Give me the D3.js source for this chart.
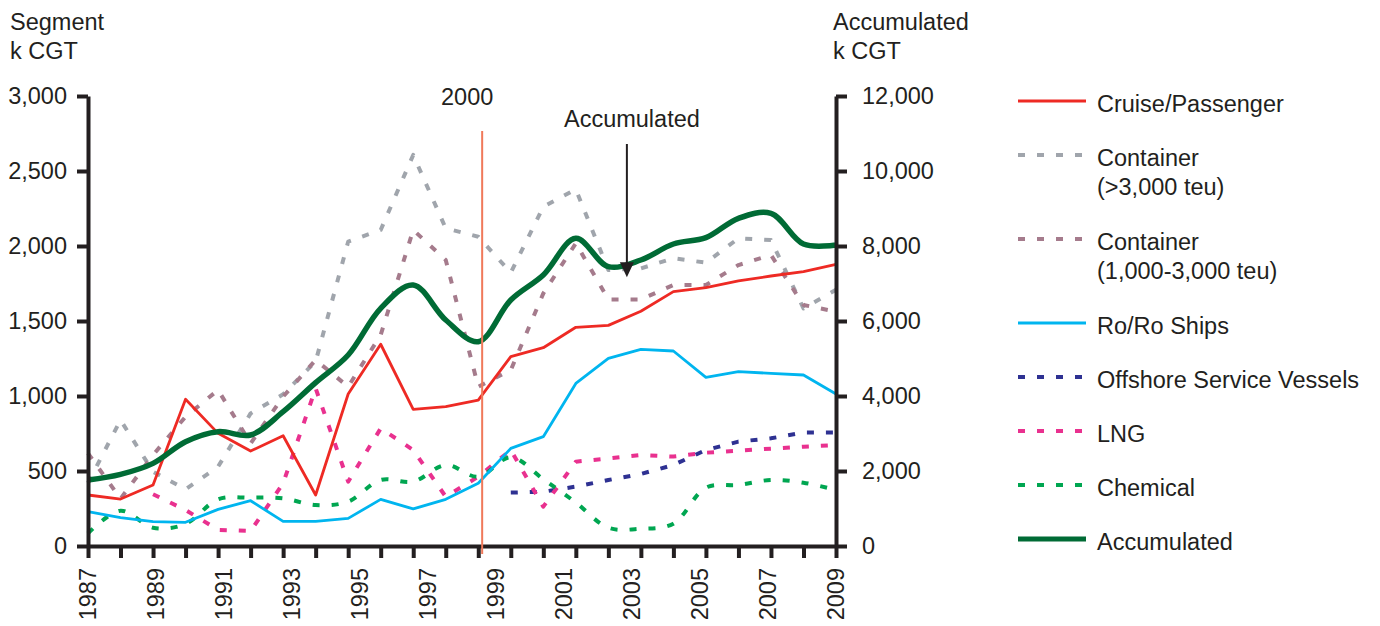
<!DOCTYPE html>
<html>
<head>
<meta charset="utf-8">
<script src="https://cdn.jsdelivr.net/npm/d3@7"></script>
<style>
body { margin: 0; background: #fff; }
text { font-family: "Liberation Sans", Arial, Helvetica, sans-serif; fill: #231f20; font-size: 23.5px; }
</style>
</head>
<body>
<svg id="chart" width="1380" height="626"></svg>
<script>
// year labels under the x axis (odd years)
var labelYears = [1987, 1989, 1991, 1993, 1995, 1997, 1999, 2001, 2003, 2005, 2007, 2009];

// 24 data points per series, k CGT
var cruise    = [340, 313, 407, 978, 751, 633, 735, 340, 1013, 1345, 911, 929, 973, 1262, 1322, 1458, 1471, 1565, 1696, 1722, 1767, 1800, 1829, 1877];
var contLarge = [420, 840, 495, 378, 529, 884, 1011, 1230, 2029, 2107, 2607, 2118, 2062, 1822, 2262, 2378, 1840, 1851, 1918, 1889, 2051, 2040, 1584, 1709];
var contMid   = [618, 315, 607, 862, 1040, 684, 996, 1240, 1062, 1407, 2107, 1907, 1062, 1173, 1684, 2018, 1644, 1644, 1740, 1740, 1873, 1940, 1607, 1562];
var roro      = [229, 189, 162, 158, 244, 302, 164, 164, 184, 311, 247, 311, 418, 651, 729, 1084, 1251, 1311, 1300, 1124, 1162, 1151, 1140, 1013];
var offshore  = [null, null, null, null, null, null, null, null, null, null, null, null, null, 356, 362, 396, 440, 480, 540, 640, 696, 718, 756, 756];
var lng       = [null, null, 345, 240, 107, 100, 418, 1051, 429, 784, 640, 329, 462, 640, 262, 562, 584, 607, 596, 622, 636, 649, 662, 673];
var chemical  = [84, 235, 122, 147, 311, 322, 318, 273, 296, 440, 429, 540, 462, 592, 445, 290, 122, 115, 149, 389, 407, 440, 422, 373];
var accumulated = [1760, 1911, 2204, 2782, 3049, 2960, 3582, 4356, 5093, 6338, 6960, 6027, 5449, 6560, 7227, 8204, 7449, 7627, 8053, 8222, 8738, 8871, 8053, 8027];

var leftTicks = [0, 500, 1000, 1500, 2000, 2500, 3000];
var rightTicks = [0, 2000, 4000, 6000, 8000, 10000, 12000];

var marker2000 = 12.12;   // position of the "2000" line, in data index units
var arrowAt = { i: 16.57, v: 7170 };

var series = [
  { name: ["Container", "(>3,000 teu)"], values: contLarge, color: "#a0a5ac", width: 4, dash: "7,12" },
  { name: ["Container", "(1,000-3,000 teu)"], values: contMid, color: "#a57b8c", width: 4, dash: "7,12" },
  { name: ["Offshore Service Vessels"], values: offshore, color: "#2e3192", width: 4, dash: "7,12" },
  { name: ["LNG"], values: lng, color: "#e9318f", width: 4, dash: "7,12" },
  { name: ["Chemical"], values: chemical, color: "#00a651", width: 4, dash: "7,12", smooth: true },
  { name: ["Ro/Ro Ships"], values: roro, color: "#00b5ef", width: 2.8 },
  { name: ["Cruise/Passenger"], values: cruise, color: "#ee2a24", width: 2.8 },
  { name: ["Accumulated"], values: accumulated, color: "#006b35", width: 5.5, smooth: true, right: true }
];

var svg = d3.select("#chart");
var plotLeft = 88, plotRight = 836, plotTop = 96, plotBottom = 546;

var x = d3.scaleLinear().domain([0, 23]).range([plotLeft, plotRight]);
var xYear = d3.scaleLinear().domain([1987, 2009]).range([plotLeft, plotRight]);
var yL = d3.scaleLinear().domain([0, 3000]).range([plotBottom, plotTop]);
var yR = d3.scaleLinear().domain([0, 12000]).range([plotBottom, plotTop]);

// data lines
series.forEach(function(s) {
  var ys = s.right ? yR : yL;
  var line = d3.line()
    .defined(function(d) { return d != null; })
    .x(function(d, i) { return x(i); })
    .y(function(d) { return ys(d); })
    .curve(s.smooth ? d3.curveCatmullRom.alpha(0.5) : d3.curveLinear);
  svg.append("path")
    .datum(s.values)
    .attr("fill", "none")
    .attr("stroke", s.color)
    .attr("stroke-width", s.width)
    .attr("stroke-dasharray", s.dash || null)
    .attr("stroke-linejoin", "round")
    .attr("d", line);
});

// axes
function styleAxis(g) {
  g.selectAll("path.domain").attr("stroke", "#231f20").attr("stroke-width", 4);
  g.selectAll(".tick line").attr("stroke", "#231f20").attr("stroke-width", 4);
  g.selectAll(".tick text").style("font-size", "23.5px").attr("fill", "#231f20").attr("font-family", null);
}

svg.append("g")
  .attr("transform", "translate(" + plotLeft + ",0)")
  .call(d3.axisLeft(yL).tickValues(leftTicks).tickSize(11).tickSizeOuter(0).tickPadding(10).tickFormat(d3.format(",")))
  .call(styleAxis);

svg.append("g")
  .attr("transform", "translate(" + plotRight + ",0)")
  .call(d3.axisRight(yR).tickValues(rightTicks).tickSize(11).tickSizeOuter(0).tickPadding(15).tickFormat(d3.format(",")))
  .call(styleAxis);

svg.append("g")
  .attr("transform", "translate(0," + plotBottom + ")")
  .call(d3.axisBottom(x).tickValues(d3.range(24)).tickSize(12).tickSizeOuter(0).tickFormat(""))
  .call(styleAxis);

svg.selectAll(".year")
  .data(labelYears)
  .enter().append("text")
  .attr("class", "year")
  .attr("transform", function(d) { return "translate(" + xYear(d) + ",568) rotate(-90)"; })
  .attr("dy", "0.35em")
  .attr("text-anchor", "end")
  .text(function(d) { return d; });

// axis titles
[["Segment", "k CGT", 10], ["Accumulated", "k CGT", 833]].forEach(function(t) {
  var txt = svg.append("text").attr("x", t[2]).attr("y", 30);
  txt.append("tspan").attr("x", t[2]).text(t[0]);
  txt.append("tspan").attr("x", t[2]).attr("dy", 29).text(t[1]);
});

// 2000 marker
svg.append("line")
  .attr("x1", x(marker2000)).attr("x2", x(marker2000))
  .attr("y1", 131).attr("y2", 554)
  .attr("stroke", "#f0795a").attr("stroke-width", 2);
svg.append("text")
  .attr("x", x(marker2000) - 15).attr("y", 105)
  .attr("text-anchor", "middle")
  .text("2000");

// accumulated annotation
var ax = x(arrowAt.i), ay = yR(arrowAt.v);
svg.append("text").attr("x", ax + 5).attr("y", 127).attr("text-anchor", "middle").text("Accumulated");
svg.append("line").attr("x1", ax).attr("x2", ax).attr("y1", 144).attr("y2", ay - 12)
  .attr("stroke", "#231f20").attr("stroke-width", 2);
svg.append("path")
  .attr("d", "M" + (ax - 7) + "," + (ay - 15) + "L" + (ax + 7) + "," + (ay - 15) + "L" + ax + "," + ay + "Z")
  .attr("fill", "#231f20");

// legend
var legendItems = [
  series[6], series[0], series[1], series[5], series[2], series[3], series[4], series[7]
];
var ly = 101;
legendItems.forEach(function(s) {
  svg.append("line")
    .attr("x1", 1018).attr("x2", 1086).attr("y1", ly).attr("y2", ly)
    .attr("stroke", s.color)
    .attr("stroke-width", s.dash ? 4 : (s.right ? 5 : 3))
    .attr("stroke-dasharray", s.dash ? "7,12" : null);
  var t = svg.append("text").attr("x", 1097).attr("y", ly + 11);
  s.name.forEach(function(n, k) {
    t.append("tspan").attr("x", 1097).attr("dy", k ? 29 : 0).text(n);
  });
  ly += 54 + 30 * (s.name.length - 1);
});
</script>
</body>
</html>
